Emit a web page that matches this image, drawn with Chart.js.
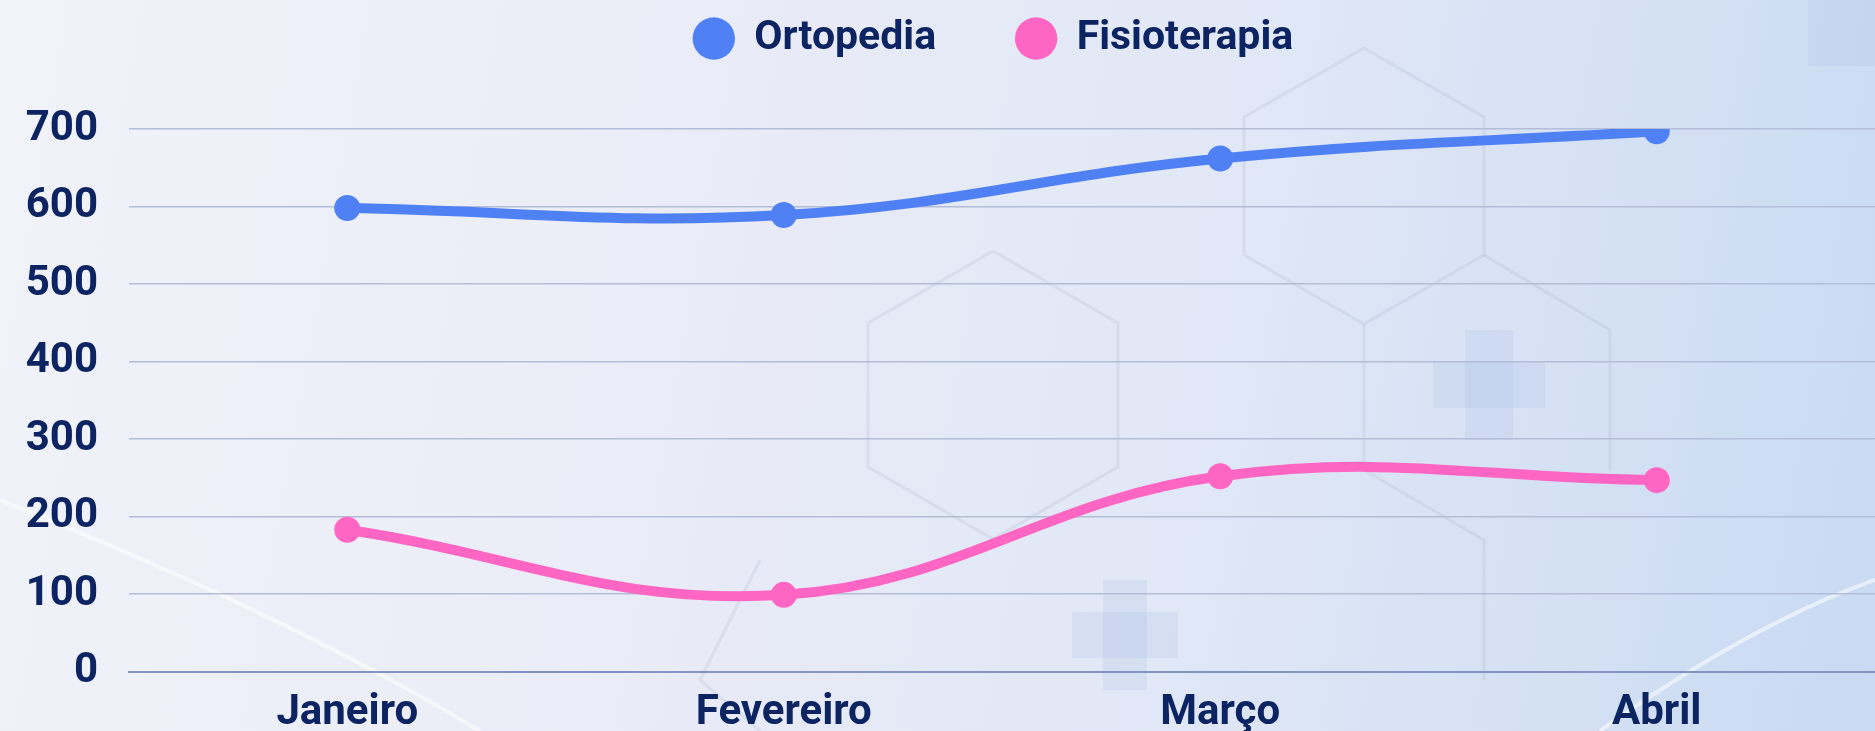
<!DOCTYPE html>
<html>
<head>
<meta charset="utf-8">
<script src="https://cdn.jsdelivr.net/npm/chart.js@4.4.1/dist/chart.umd.min.js"></script>
<style>
    html, body { margin: 0; padding: 0; width: 1875px; height: 731px; overflow: hidden; }
    body {
        position: relative;
        background: linear-gradient(100deg, #f1f3f9 0%, #eaecf7 35%, #e0e7f6 65%, #c9daf2 100%);
        font-family: Roboto, sans-serif;
    }
    #deco { position: absolute; left: 0; top: 0; }
    #chart { position: absolute; left: 0; top: 0; }
</style>
</head>
<body>
<!-- faint background decoration -->
<svg id="deco" width="1875" height="731" viewBox="0 0 1875 731">
    <g fill="none" stroke="rgba(150,160,185,0.16)" stroke-width="3">
        <polygon points="1364,48 1484,117 1484,255 1364,324 1244,255 1244,117"/>
        <polygon points="993,251 1118,323 1118,467 993,539 868,467 868,323"/>
        <polyline points="1364,324 1364,470 1484,540 1484,680"/>
        <polyline points="1484,255 1610,330 1610,470"/>
        <polyline points="760,560 700,680 760,731"/>
    </g>
    <g fill="rgba(160,185,225,0.18)">
        <rect x="1465" y="330" width="48" height="110"/>
        <rect x="1433" y="362" width="112" height="46"/>
        <rect x="1103" y="580" width="44" height="110"/>
        <rect x="1072" y="612" width="106" height="46"/>
        <rect x="1808" y="0" width="67" height="66"/>
    </g>
    <g fill="none" stroke="rgba(255,255,255,0.55)" stroke-width="4">
        <path d="M0,500 C150,560 330,640 480,731"/>
        <path d="M1600,731 C1700,660 1790,610 1875,580"/>
    </g>
</svg>
<canvas id="chart" width="1875" height="756"></canvas>
<script>
const months = ['Janeiro', 'Fevereiro', 'Março', 'Abril'];
const ortopedia = [598, 589, 662, 697];
const fisioterapia = [183, 99, 252, 247];
const yMax = 700;
const yStep = 100;

const NAVY = '#0c2461';
const BLUE = '#4f81f5';
const PINK = '#ff66c4';

Chart.defaults.font.family = 'Roboto';
Chart.defaults.font.weight = 'bold';
Chart.defaults.color = NAVY;

// move the legend up/right after layout (keeps wide gap without eating chart height)
const legendShift = {
    id: 'legendShift',
    afterLayout(chart) {
        const lg = chart.legend;
        lg.top -= 62;
        lg.bottom -= 62;
        lg.left += 56;
        lg.right += 56;
    }
};

const ctx = document.getElementById('chart').getContext('2d');
new Chart(ctx, {
    type: 'line',
    data: {
        labels: months,
        datasets: [
            {
                label: 'Ortopedia',
                data: ortopedia,
                borderColor: BLUE,
                backgroundColor: BLUE,
                borderWidth: 10,
                tension: 0.4,
                pointRadius: 13,
                pointBorderWidth: 0,
                pointBackgroundColor: BLUE
            },
            {
                label: 'Fisioterapia',
                data: fisioterapia,
                borderColor: PINK,
                backgroundColor: PINK,
                borderWidth: 10,
                tension: 0.4,
                pointRadius: 13,
                pointBorderWidth: 0,
                pointBackgroundColor: PINK
            }
        ]
    },
    options: {
        responsive: false,
        animation: false,
        layout: { padding: 0, autoPadding: false },
        plugins: {
            legend: {
                position: 'top',
                maxHeight: 129,
                labels: {
                    usePointStyle: true,
                    pointStyle: 'circle',
                    boxWidth: 40,
                    boxHeight: 30,
                    padding: 80,
                    color: NAVY,
                    font: { size: 41, weight: 'bold' }
                }
            },
            tooltip: { enabled: false }
        },
        scales: {
            x: {
                offset: true,
                afterFit(scale) { scale.paddingLeft = 0; scale.paddingRight = 0; },
                grid: { display: false, drawTicks: false },
                border: { display: true, color: '#8593c0', width: 2 },
                ticks: { padding: 17, color: NAVY, font: { size: 42, weight: 'bold' } }
            },
            y: {
                min: 0,
                max: yMax,
                afterFit(scale) { scale.width = 129; },
                grid: { color: '#b4bdd8', lineWidth: 1.5, drawTicks: false },
                border: { display: false },
                ticks: { stepSize: yStep, padding: 31, color: NAVY, font: { size: 42, weight: 'bold' } }
            }
        }
    },
    plugins: [legendShift]
});
</script>
</body>
</html>
